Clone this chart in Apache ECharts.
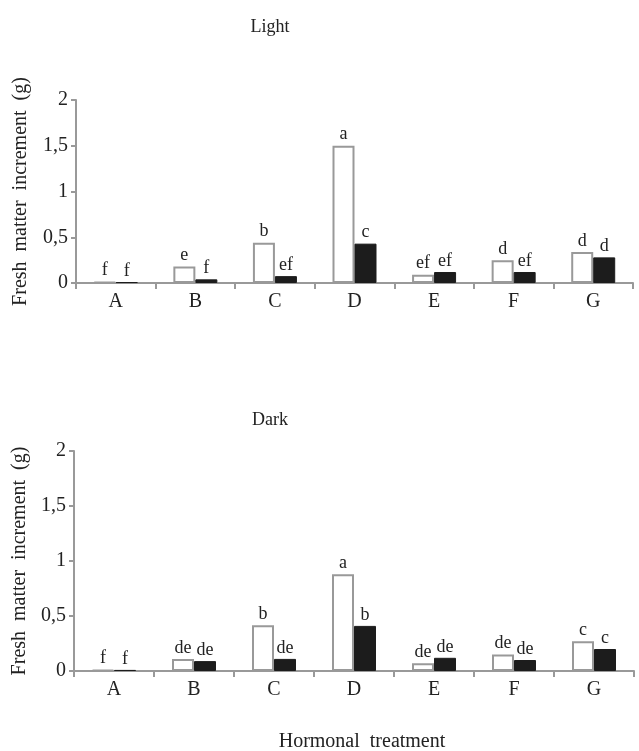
<!DOCTYPE html>
<html>
<head>
<meta charset="utf-8">
<script src="https://cdn.jsdelivr.net/npm/echarts@6/dist/echarts.min.js"></script>
<style>html,body{margin:0;padding:0;background:#fff;}#c{width:639px;height:751px;}</style>
</head>
<body>
<div id="c"></div>
<script>
const categories = ['A','B','C','D','E','F','G'];
const yTicks = ['0','0,5','1','1,5','2'];
const lightWhite = [0.01, 0.18, 0.44, 1.50, 0.09, 0.25, 0.34];
const lightBlack = [0.01, 0.04, 0.075, 0.43, 0.12, 0.12, 0.28];
const lightWhiteLetters = ['f','e','b','a','ef','d','d'];
const lightBlackLetters = ['f','f','ef','c','ef','ef','d'];
const darkWhite = [0.01, 0.11, 0.415, 0.88, 0.07, 0.15, 0.27];
const darkBlack = [0.01, 0.09, 0.11, 0.41, 0.12, 0.10, 0.20];
const darkWhiteLetters = ['f','de','b','a','de','de','c'];
const darkBlackLetters = ['f','de','de','b','de','de','c'];

const FONT = 'Liberation Serif';
const TXT = '#222';
const AX = '#999';

function xAxis(gridIndex) {
  return {
    type: 'category', gridIndex, data: categories,
    axisLine: { lineStyle: { color: AX, width: 2 } },
    axisTick: { show: true, length: 6, lineStyle: { color: AX, width: 2 } },
    axisLabel: { fontFamily: FONT, fontSize: 20, color: TXT, margin: 9 }
  };
}
function yAxis(gridIndex, gap) {
  return {
    type: 'value', gridIndex, min: 0, max: 2, interval: 0.5,
    name: 'Fresh  matter  increment  (g)', nameLocation: 'middle', nameGap: gap,
    nameTextStyle: { fontFamily: FONT, fontSize: 20, color: TXT },
    splitLine: { show: false },
    axisLine: { show: true, lineStyle: { color: AX, width: 2 } },
    axisTick: { show: true, length: 5, lineStyle: { color: AX, width: 2 } },
    axisLabel: { fontFamily: FONT, fontSize: 20, color: TXT, margin: 8,
      formatter: v => yTicks[Math.round(v / 0.5)] }
  };
}
function bar(idx, data, letters, dark) {
  return {
    type: 'bar', xAxisIndex: idx, yAxisIndex: idx, data: data,
    barWidth: 22, barGap: '0%',
    itemStyle: dark ? { color: '#1c1c1c', borderColor: '#1c1c1c', borderWidth: 1 }
                    : { color: '#fff', borderColor: AX, borderWidth: 2 },
    label: { show: true, position: 'top', distance: 2, fontFamily: FONT, fontSize: 18, color: TXT,
      formatter: p => letters[p.dataIndex] }
  };
}

const chart = echarts.init(document.getElementById('c'), null, { renderer: 'canvas' });
chart.setOption({
  backgroundColor: '#fff',
  animation: false,
  title: [
    { text: 'Light', left: 265, top: 13, textAlign: 'center', textStyle: { fontFamily: FONT, fontSize: 18, fontWeight: 'normal', color: TXT } },
    { text: 'Dark', left: 265, top: 406, textAlign: 'center', textStyle: { fontFamily: FONT, fontSize: 18, fontWeight: 'normal', color: TXT } },
    { text: 'Hormonal  treatment', left: 357, top: 727, textAlign: 'center', textStyle: { fontFamily: FONT, fontSize: 20, fontWeight: 'normal', color: TXT } }
  ],
  grid: [
    { left: 76, right: 6, top: 100, bottom: 468 },
    { left: 74, right: 5, top: 451, bottom: 80 }
  ],
  xAxis: [xAxis(0), xAxis(1)],
  yAxis: [yAxis(0, 45), yAxis(1, 43)],
  series: [
    bar(0, lightWhite, lightWhiteLetters, false),
    bar(0, lightBlack, lightBlackLetters, true),
    bar(1, darkWhite, darkWhiteLetters, false),
    bar(1, darkBlack, darkBlackLetters, true)
  ]
});
</script>
</body>
</html>
